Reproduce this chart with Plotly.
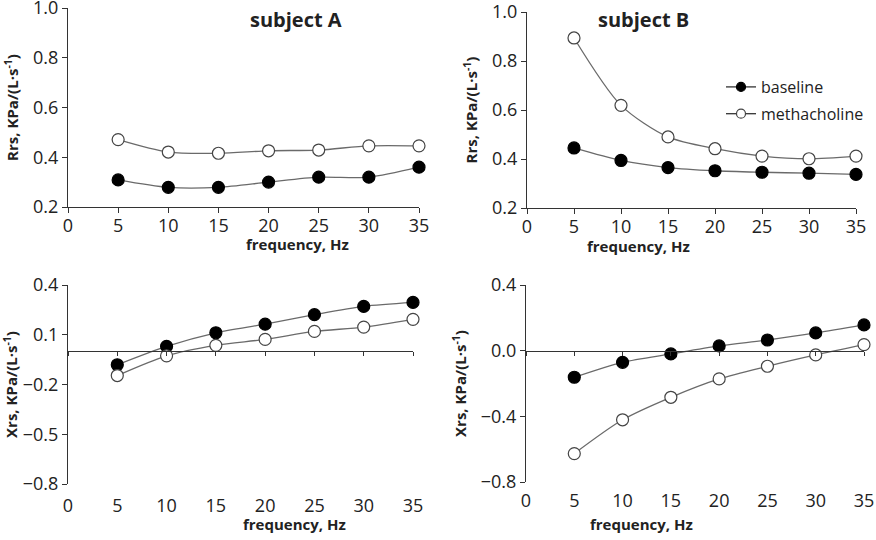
import plotly.graph_objects as go

freq = [5, 10, 15, 20, 25, 30, 35]

rrs_a_base = [0.309, 0.279, 0.279, 0.300, 0.320, 0.320, 0.360]
rrs_a_mch = [0.471, 0.421, 0.416, 0.426, 0.429, 0.446, 0.446]
rrs_b_base = [0.445, 0.394, 0.365, 0.352, 0.346, 0.342, 0.337]
rrs_b_mch = [0.894, 0.619, 0.490, 0.442, 0.412, 0.401, 0.412]
xrs_a_base = [-0.081, 0.030, 0.112, 0.164, 0.221, 0.271, 0.295]
xrs_a_mch = [-0.146, -0.027, 0.036, 0.072, 0.120, 0.146, 0.193]
xrs_b_base = [-0.162, -0.071, -0.020, 0.029, 0.065, 0.108, 0.157]
xrs_b_mch = [-0.627, -0.421, -0.284, -0.172, -0.095, -0.026, 0.037]

x_ticks = [0, 5, 10, 15, 20, 25, 30, 35]
rrs_ticks = [0.2, 0.4, 0.6, 0.8, 1.0]
xrs_a_ticks = [-0.8, -0.5, -0.2, 0.1, 0.4]
xrs_b_ticks = [-0.8, -0.4, 0.0, 0.4]

titles = ["subject A", "subject B"]
series_names = ["baseline", "methacholine"]
x_title = "frequency, Hz"
rrs_title = "<b>Rrs, KPa/(L·s<sup>-1</sup>)</b>"
xrs_title = "<b>Xrs, KPa/(L·s<sup>-1</sup>)</b>"

FONT = "Open Sans"
LINE_C = "#6a6a6a"
TXT = "#222222"
W, H = 876, 540
TICK_SIZE = 18

panels = [
    # xa, ya, base, mch, x px, y px, yrange, yticks, ytitle, xtitle y, x label standoff
    ("x", "y", rrs_a_base, rrs_a_mch, (68, 419), (8, 207), (0.2, 1.0), rrs_ticks, rrs_title, 244, -3),
    ("x2", "y2", rrs_b_base, rrs_b_mch, (527, 856), (12, 208), (0.2, 1.0), rrs_ticks, rrs_title, 246, -3),
    ("x3", "y3", xrs_a_base, xrs_a_mch, (68, 413), (285, 484), (-0.8, 0.4), xrs_a_ticks, xrs_title, 524, 9),
    ("x4", "y4", xrs_b_base, xrs_b_mch, (526, 864), (285, 482), (-0.8, 0.4), xrs_b_ticks, xrs_title, 524, 6),
]

styles = [(series_names[0], "black", "black"), (series_names[1], "white", "#444444")]

fig = go.Figure()
layout = dict(
    width=W, height=H,
    margin=dict(l=0, r=0, t=0, b=0, autoexpand=False),
    paper_bgcolor="white", plot_bgcolor="white",
    font=dict(family=FONT, color=TXT),
    showlegend=True,
    legend=dict(x=721 / W, y=1 - 70 / H, xanchor="left", yanchor="top",
                font=dict(size=16, family=FONT, color=TXT),
                bgcolor="rgba(0,0,0,0)", tracegroupgap=3, itemwidth=30, traceorder="grouped"),
)

for i, (xa, ya, base, mch, xd, yd, yr, yticks, yt, xt_y, xstand) in enumerate(panels):
    for (name, fill, border), vals in zip(styles, [base, mch]):
        fig.add_trace(go.Scatter(
            x=freq, y=vals, name=name, xaxis=xa, yaxis=ya,
            mode="lines+markers", line=dict(color=LINE_C, width=1.3, shape="spline", smoothing=0.8),
            marker=dict(size=12, color=fill, line=dict(color=border, width=1.2)),
            showlegend=False, cliponaxis=False,
        ))
    xkey = "xaxis" + xa[1:]
    ykey = "yaxis" + ya[1:]
    bottom_panel = i >= 2
    xdom = [xd[0] / W, xd[1] / W]
    ydom = [1 - yd[1] / H, 1 - yd[0] / H]
    layout[xkey] = dict(
        domain=xdom, anchor=ya, range=[0, 35], tickmode="array", tickvals=x_ticks,
        showline=not bottom_panel, linecolor="#333333", linewidth=1.3,
        ticks="" if bottom_panel else "outside", ticklen=5, tickcolor="#333333",
        ticklabelstandoff=xstand, ticklabeloverflow="allow",
        showgrid=False, zeroline=False, automargin=False,
        tickfont=dict(size=TICK_SIZE, family=FONT, color=TXT),
    )
    layout[ykey] = dict(
        domain=ydom, anchor=xa, range=list(yr), tickmode="array", tickvals=yticks,
        tickformat=".1f", ticklabeloverflow="allow",
        showline=True, linecolor="#333333", linewidth=1.3,
        ticks="outside", ticklen=5, tickcolor="#333333",
        showgrid=False, zeroline=False, automargin=False,
        tickfont=dict(size=TICK_SIZE, family=FONT, color=TXT),
        title=dict(text=yt, font=dict(size=15, family=FONT, color=TXT), standoff=10),
    )
    fig.add_annotation(text="<b>" + x_title + "</b>", x=(xdom[0] + xdom[1]) / 2,
                       y=1 - xt_y / H, xref="paper", yref="paper", showarrow=False,
                       font=dict(size=15, family=FONT, color=TXT), yanchor="middle")
    if bottom_panel:
        zkey = "xaxis" + str(i + 3)
        zpos = ydom[0] + (0 - yr[0]) / (yr[1] - yr[0]) * (ydom[1] - ydom[0])
        layout[zkey] = dict(
            overlaying=xa, anchor="free", position=zpos, domain=xdom,
            range=[0, 35], tickmode="array", tickvals=x_ticks,
            showline=True, linecolor="#333333", linewidth=1.3,
            ticks="outside", ticklen=4, tickcolor="#333333",
            showticklabels=False, showgrid=False, zeroline=False, automargin=False,
        )
        fig.add_trace(go.Scatter(x=[0, 35], y=[None, None], xaxis="x" + str(i + 3), yaxis=ya,
                                 showlegend=False, hoverinfo="skip"))

# legend entries (smaller symbols, as in the reference legend)
for gi, (name, fill, border) in enumerate(styles):
    fig.add_trace(go.Scatter(
        x=[None], y=[None], name=name, xaxis="x2", yaxis="y2", legendgroup="g%d" % gi,
        mode="lines+markers", line=dict(color="#333333", width=1.3),
        marker=dict(size=9, color=fill, line=dict(color=border, width=1.2)),
        showlegend=True,
    ))

fig.update_layout(**layout)

fig.add_annotation(text="<b>" + titles[0] + "</b>", x=248 / W, y=1 - 20 / H, xref="paper", yref="paper",
                   showarrow=False, font=dict(size=20, family=FONT, color=TXT), yanchor="middle")
fig.add_annotation(text="<b>" + titles[1] + "</b>", x=691 / W, y=1 - 20 / H, xref="paper", yref="paper",
                   showarrow=False, font=dict(size=20, family=FONT, color=TXT), yanchor="middle")

fig.write_html("out.html", config={"displayModeBar": False},
               post_script="document.body.style.margin='0';")
